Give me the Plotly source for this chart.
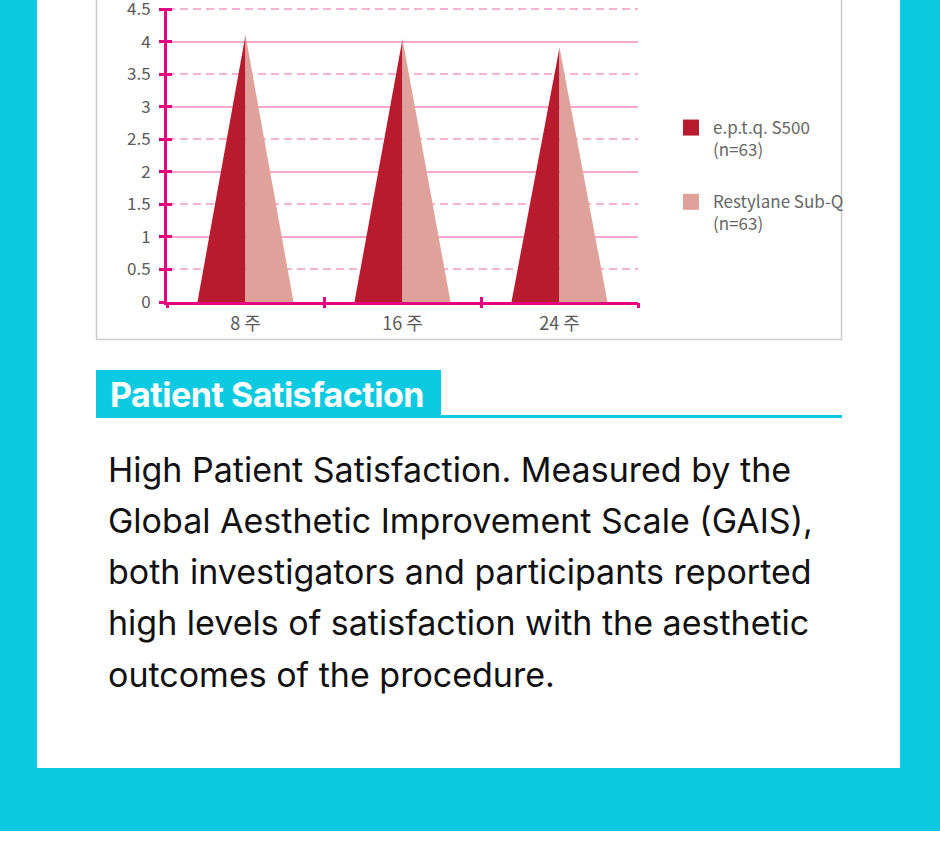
import plotly.graph_objects as go

# ---------------- data ----------------
categories = ["8 주", "16 주", "24 주"]
eptq_values = [4.1, 4.04, 3.91]
restylane_values = [4.1, 4.04, 3.91]
series_names = ["e.p.t.q. S500<br>(n=63)", "Restylane Sub-Q<br>(n=63)"]
y_tick_values = [0, 0.5, 1, 1.5, 2, 2.5, 3, 3.5, 4, 4.5]
y_tick_labels = ["0", "0.5", "1", "1.5", "2", "2.5", "3", "3.5", "4", "4.5"]
title_text = "Patient Satisfaction"
body_lines = [
    "High Patient Satisfaction. Measured by the",
    "Global Aesthetic Improvement Scale (GAIS),",
    "both investigators and participants reported",
    "high levels of satisfaction with the aesthetic",
    "outcomes of the procedure.",
]

# ---------------- style ----------------
CYAN = "#0CCAE1"
DARK = "#B81A2E"
LIGHT = "#DFA29A"
MAGENTA = "#E4007F"
GRID = "#F3A9CC"
GRID_DASH = "#F5B3D3"
TXT = "#5a5a5a"
HALF_W = 0.306

W, H = 940, 861
L, R, T, B = 167, 638, 8, 302  # plot area in pixels
Y_TOP = 4.516


def px(x):
    return (x - L) / (R - L)


def py(y):
    return (B - y) / (B - T)


fig = go.Figure()

# triangles (left half dark, right half light)
for i, (v1, v2) in enumerate(zip(eptq_values, restylane_values)):
    fig.add_trace(go.Scatter(
        x=[i - HALF_W, i, i, i - HALF_W], y=[0, v1, 0, 0], mode="lines",
        fill="toself", fillcolor=DARK, line=dict(width=0, color=DARK),
        showlegend=False, hoverinfo="skip"))
    fig.add_trace(go.Scatter(
        x=[i, i, i + HALF_W, i], y=[0, v2, 0, 0], mode="lines",
        fill="toself", fillcolor=LIGHT, line=dict(width=0, color=LIGHT),
        showlegend=False, hoverinfo="skip"))

# legend entries
for name, col, grp in zip(series_names, [DARK, LIGHT], ["a", "b"]):
    fig.add_trace(go.Scatter(
        x=[None], y=[None], mode="markers", name=name, legendgroup=grp,
        marker=dict(symbol="square", size=16, color=col, line=dict(width=0))))

# dummy traces so overlay axes are drawn
for xa, ya in [("x2", "y"), ("x3", "y"), ("x", "y2"), ("x", "y3"), ("x", "y4")]:
    fig.add_trace(go.Scatter(x=[None], y=[None], xaxis=xa, yaxis=ya,
                             showlegend=False, hoverinfo="skip"))

xr = [-0.5, len(categories) - 0.5]
yr = [0, Y_TOP]
bounds = [i - 0.5 for i in range(len(categories) + 1)]
halves = [v for v in y_tick_values if v % 1 != 0]
ints = [v for v in y_tick_values if v % 1 == 0 and v != 0]

fig.update_layout(
    width=W, height=H,
    margin=dict(l=L, r=W - R, t=T, b=H - B, pad=0, autoexpand=False),
    paper_bgcolor="white", plot_bgcolor="rgba(0,0,0,0)",
    hovermode=False,
    xaxis=dict(range=xr, tickvals=list(range(len(categories))), ticktext=categories,
               ticks="outside", ticklen=3, tickcolor="rgba(0,0,0,0)",
               showline=True, linecolor=MAGENTA, linewidth=3, showgrid=False,
               zeroline=False, ticklabeloverflow="allow", automargin=False,
               tickfont=dict(family="Noto Sans CJK KR", size=18, color=TXT)),
    xaxis2=dict(range=xr, overlaying="x", anchor="y", side="bottom", tickvals=bounds,
                ticks="outside", ticklen=5, tickwidth=3, tickcolor=MAGENTA, automargin=False,
                showticklabels=False, showgrid=False, showline=False, zeroline=False),
    xaxis3=dict(range=xr, overlaying="x", anchor="y", side="bottom", tickvals=bounds,
                ticks="inside", ticklen=5, tickwidth=3, tickcolor=MAGENTA, automargin=False,
                showticklabels=False, showgrid=False, showline=False, zeroline=False),
    yaxis=dict(range=yr, tickvals=y_tick_values, ticktext=y_tick_labels,
               ticks="outside", ticklen=5, tickwidth=3, tickcolor=MAGENTA,
               ticklabelstandoff=5, ticklabeloverflow="allow", automargin=False,
               showline=True, linecolor=MAGENTA, linewidth=3, showgrid=False,
               zeroline=False, tickfont=dict(family="Noto Sans CJK KR", size=17, color=TXT)),
    yaxis2=dict(range=yr, overlaying="y", anchor="x", tickvals=ints, showticklabels=False,
                ticks="", showgrid=True, gridcolor=GRID, gridwidth=1.5, automargin=False,
                showline=False, zeroline=False),
    yaxis3=dict(range=yr, overlaying="y", anchor="x", tickvals=halves, showticklabels=False,
                ticks="", showgrid=True, gridcolor=GRID_DASH, gridwidth=1.6, griddash="8px,5px",
                showline=False, zeroline=False, automargin=False),
    yaxis4=dict(range=yr, overlaying="y", anchor="x", tickvals=y_tick_values,
                showticklabels=False, ticks="inside", ticklen=5, tickwidth=3, automargin=False,
                tickcolor=MAGENTA, showgrid=False, showline=False, zeroline=False),
    legend=dict(x=px(669), y=py(110), xanchor="left", yanchor="top",
                traceorder="grouped", tracegroupgap=27, valign="top", itemwidth=34,
                bgcolor="rgba(0,0,0,0)",
                font=dict(family="Noto Sans CJK KR", size=17, color="#666666")),
)

shapes = [
    dict(type="rect", xref="paper", yref="paper", x0=px(0), x1=px(940), y0=py(-5), y1=py(831),
         fillcolor=CYAN, line=dict(width=0), layer="below"),
    dict(type="rect", xref="paper", yref="paper", x0=px(37), x1=px(900), y0=py(-5), y1=py(768),
         fillcolor="white", line=dict(width=0), layer="below"),
    dict(type="rect", xref="paper", yref="paper", x0=px(96.5), x1=px(841.5), y0=py(-5), y1=py(339.5),
         fillcolor="white", line=dict(width=1.5, color="#CCCCCC"), layer="below"),
    dict(type="rect", xref="paper", yref="paper", x0=px(96), x1=px(441), y0=py(370), y1=py(418),
         fillcolor=CYAN, line=dict(width=0), layer="below"),
    dict(type="rect", xref="paper", yref="paper", x0=px(441), x1=px(842), y0=py(415), y1=py(418),
         fillcolor=CYAN, line=dict(width=0), layer="below"),
]
fig.update_layout(shapes=shapes)

annotations = [
    dict(xref="paper", yref="paper", x=px(108), y=py(394.5), xanchor="left", yanchor="middle",
         showarrow=False,
         text="<span style='letter-spacing:-0.5px'><b>" + title_text + "</b></span>",
         font=dict(family="Inter", size=34, color="white")),
]
for k, line in enumerate(body_lines):
    annotations.append(dict(
        xref="paper", yref="paper", x=px(106), y=py(469 + 51.3 * k),
        xanchor="left", yanchor="middle", showarrow=False, text=line,
        font=dict(family="Inter", size=34, color="#111111")))
fig.update_layout(annotations=annotations)

fig.write_html("out.html")
